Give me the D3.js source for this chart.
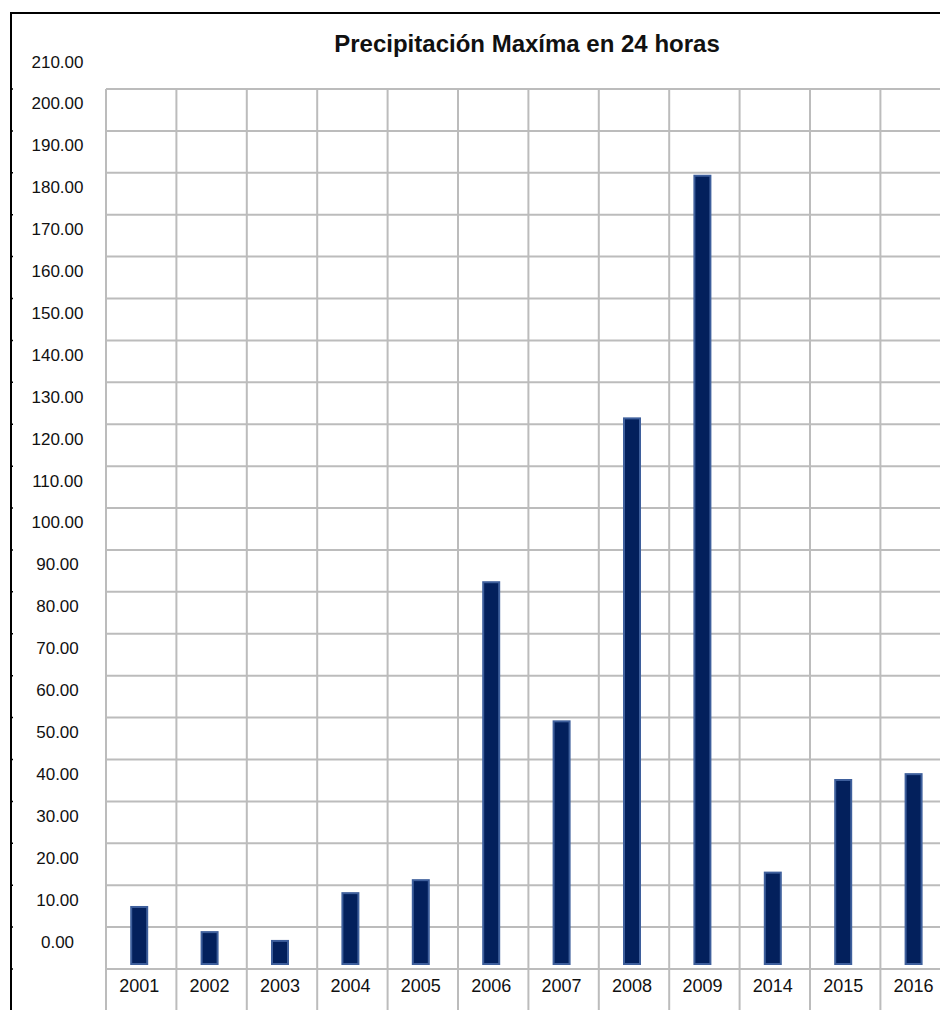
<!DOCTYPE html>
<html>
<head>
<meta charset="utf-8">
<script src="https://cdn.jsdelivr.net/npm/d3@7"></script>
<style>
  html, body { margin: 0; padding: 0; background: #fff; }
  svg { display: block; }
  text { font-family: "Liberation Sans", Arial, sans-serif; fill: #111; }
</style>
</head>
<body>
<svg id="chart" width="940" height="1010"></svg>
<script>
// Annual maximum 24-hour precipitation (mm)
const years = ["2001", "2002", "2003", "2004", "2005", "2006", "2007", "2008", "2009", "2014", "2015", "2016"];
const precipMax = [14.8, 8.8, 6.7, 18.1, 21.2, 92.3, 59.1, 131.4, 189.3, 23.0, 45.1, 46.5];
const yTicks = d3.range(0, 211, 10);
const title = "Precipitación Maxíma en 24 horas";

const svg = d3.select("#chart");
const W = 940, H = 1010;

const x = d3.scaleBand().domain(years).range([106, 950.8]).padding(0);
const y = d3.scaleLinear().domain([0, 210]).range([969, 89]);

const gridColor = "#bcbcbc";

// horizontal gridlines
svg.append("g").selectAll("line").data(yTicks).join("line")
  .attr("x1", 106).attr("x2", W)
  .attr("y1", d => y(d)).attr("y2", d => y(d))
  .attr("stroke", gridColor).attr("stroke-width", 2);

// vertical gridlines (run down through the category labels)
svg.append("g").selectAll("line").data(years).join("line")
  .attr("x1", d => x(d)).attr("x2", d => x(d))
  .attr("y1", y(210)).attr("y2", H)
  .attr("stroke", gridColor).attr("stroke-width", 2);

// outer frame: top and left borders
svg.append("line").attr("x1", 10).attr("x2", W).attr("y1", 13).attr("y2", 13)
  .attr("stroke", "#000").attr("stroke-width", 2);
svg.append("line").attr("x1", 11).attr("x2", 11).attr("y1", 12).attr("y2", H)
  .attr("stroke", "#000").attr("stroke-width", 2);
svg.append("g").selectAll("line").data(yTicks).join("line")
  .attr("x1", 11).attr("x2", 13)
  .attr("y1", d => y(d)).attr("y2", d => y(d))
  .attr("stroke", "#000").attr("stroke-width", 1.5);

// value labels
svg.append("g").selectAll("text").data(yTicks).join("text")
  .attr("x", 57.5)
  .attr("y", d => y(d) - 21.5)
  .attr("text-anchor", "middle")
  .style("font-size", "17px")
  .text(d => d3.format(".2f")(d));

// category labels
svg.append("g").selectAll("text").data(years).join("text")
  .attr("x", d => x(d) + x.bandwidth() / 2 - 2)
  .attr("y", 991.5)
  .attr("text-anchor", "middle")
  .style("font-size", "18px")
  .text(d => d);

// bars
const barW = 16;
const base = y(0) - 5;
svg.append("g").selectAll("rect").data(years.map((yr, i) => ({ yr, v: precipMax[i] }))).join("rect")
  .attr("x", d => x(d.yr) + x.bandwidth() / 2 - 2 - barW / 2)
  .attr("y", d => y(d.v))
  .attr("width", barW)
  .attr("height", d => base - y(d.v))
  .attr("fill", "#03205c")
  .attr("stroke", "#3e5f9c")
  .attr("stroke-width", 2);

// title
svg.append("text")
  .attr("x", 527).attr("y", 52)
  .attr("text-anchor", "middle")
  .style("font-size", "24px")
  .style("font-weight", "bold")
  .text(title);
</script>
</body>
</html>
